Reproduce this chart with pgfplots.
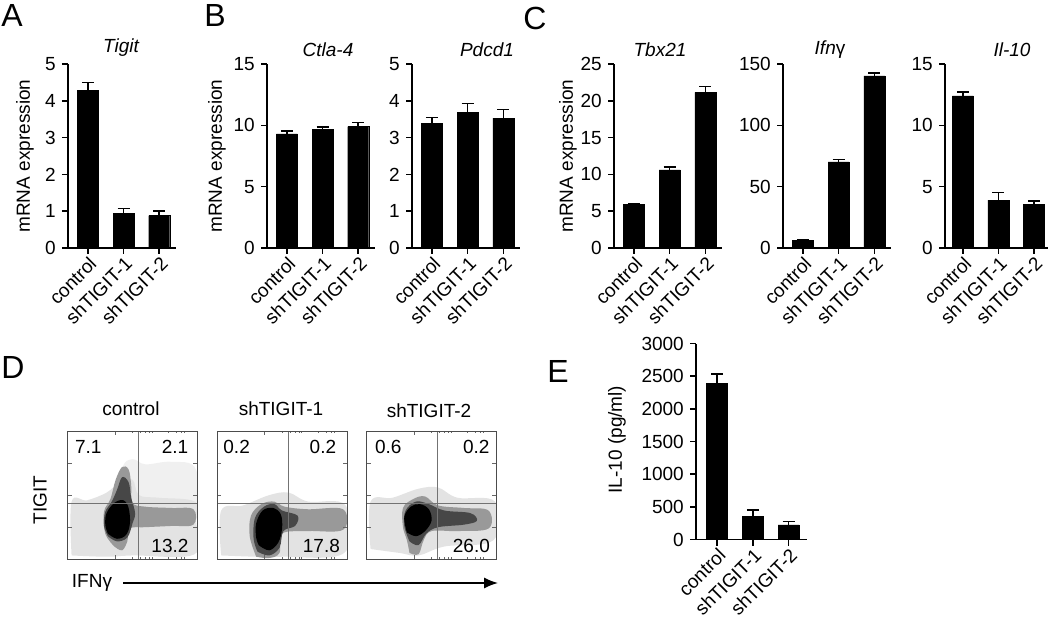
\documentclass[border=0pt]{standalone}
\usepackage{pgfplots}
\pgfplotsset{compat=1.18}
\usepackage{fontspec}
\setmainfont{Liberation Sans}
\usetikzlibrary{arrows.meta}
\newcommand\f{\fontsize{19}{22}\selectfont}
\newcommand\bigf{\fontsize{32}{36}\selectfont}
\pgfplotsset{
  barax/.style={
    scale only axis, width=108pt, height=184pt,
    ymin=0, xmin=-0.56, xmax=2.47,
    axis x line*=bottom, axis y line*=left,
    axis line style={line width=1.5pt},
    xtick={0,1,2}, xticklabels={control,shTIGIT-1,shTIGIT-2},
    tick align=outside, major tick length=6pt,
    every tick/.style={black, line width=1.5pt},
    xticklabel style={rotate=45, anchor=north east, inner sep=1pt},
    yticklabel style={inner sep=2pt, anchor=east, xshift=-4pt},
    /pgf/number format/assume math mode=true,
    /pgf/number format/1000 sep={},
    scaled y ticks=false,
    clip=false, anchor=south west,
  },
  barplot/.style={ybar, bar width=21pt, fill=black, draw=black,
     error bars/.cd, y dir=plus, y explicit,
     error bar style={line width=1.5pt, black},
     error mark options={line width=1.5pt, mark size=6pt, rotate=90, black}},
  flow/.style={
    scale only axis, width=129.6pt, height=128.3pt,
    xmin=0, xmax=100, ymin=0, ymax=100,
    ytick={25,50,75}, yticklabels={},
    xtick={36.5}, xticklabels={},
    minor xtick={50,56,60,63,65,78,84,88,90},
    tick align=inside, major tick length=4pt, minor tick length=2pt,
    every tick/.style={black!60, line width=0.6pt},
    axis line style={black!70, line width=0.8pt},
    axis on top, anchor=south west,
  },
  cloud/.style={draw=none, fill=#1, smooth, tension=0.6},
}
\begin{document}
\begin{tikzpicture}[font=\f]
\path[use as bounding box] (0pt,0pt) rectangle (1050pt,-617pt);
% panel letters
\node[font=\bigf] at (12pt,-15pt) {A};
\node[font=\bigf] at (215pt,-15pt) {B};
\node[font=\bigf] at (535pt,-18pt) {C};
\node[font=\bigf] at (13pt,-367pt) {D};
\node[font=\bigf] at (558pt,-371pt) {E};
% titles
\node[font=\f\itshape] at (121pt,-48pt) {Tigit};
\node[font=\f\itshape] at (328pt,-50pt) {Ctla-4};
\node[font=\f\itshape] at (487pt,-50pt) {Pdcd1};
\node[font=\f\itshape] at (660pt,-50pt) {Tbx21};
\node at (830pt,-50pt) {{\itshape Ifn}γ};
\node[font=\f\itshape] at (1012pt,-50pt) {Il-10};

% A
\begin{axis}[barax, at={(68pt,-248pt)}, ymax=5, ytick={0,1,2,3,4,5},
  ylabel={mRNA expression}, ylabel style={at={(axis description cs:-0.398,0.5)}, anchor=center}]
\addplot[barplot] coordinates {(0,4.28) +- (0,0.22) (1,0.94) +- (0,0.13) (2,0.88) +- (0,0.12)};
\end{axis}
% B Ctla-4
\begin{axis}[barax, at={(267pt,-248pt)}, ymax=15, ytick={0,5,10,15},
  ylabel={mRNA expression}, ylabel style={at={(axis description cs:-0.463,0.5)}, anchor=center}]
\addplot[barplot] coordinates {(0,9.3) +- (0,0.25) (1,9.65) +- (0,0.22) (2,9.9) +- (0,0.35)};
\end{axis}
% B Pdcd1
\begin{axis}[barax, at={(412pt,-248pt)}, ymax=5, ytick={0,1,2,3,4,5}]
\addplot[barplot] coordinates {(0,3.39) +- (0,0.16) (1,3.69) +- (0,0.24) (2,3.53) +- (0,0.23)};
\end{axis}
% C Tbx21
\begin{axis}[barax, at={(614pt,-248pt)}, ymax=25, ytick={0,5,10,15,20,25},
  ylabel={mRNA expression}, ylabel style={at={(axis description cs:-0.426,0.5)}, anchor=center}]
\addplot[barplot] coordinates {(0,5.92) +- (0,0.12) (1,10.6) +- (0,0.4) (2,21.15) +- (0,0.8)};
\end{axis}
% C Ifng
\begin{axis}[barax, at={(783pt,-248pt)}, ymax=150, ytick={0,50,100,150}]
\addplot[barplot] coordinates {(0,6.1) +- (0,0.8) (1,70.2) +- (0,1.9) (2,140.4) +- (0,2.4)};
\end{axis}
% C Il-10
\begin{axis}[barax, at={(945pt,-248pt)}, width=103pt, xmin=-0.5, xmax=2.4, ymax=15, ytick={0,5,10,15}]
\addplot[barplot] coordinates {(0,12.41) +- (0,0.31) (1,3.91) +- (0,0.6) (2,3.55) +- (0,0.3)};
\end{axis}
% E
\begin{axis}[barax, at={(696pt,-539.5pt)}, width=110.5pt, height=196pt, xmin=-0.59, xmax=2.5,
  ymax=3000, ytick={0,500,1000,1500,2000,2500,3000},
  ylabel={IL-10 (pg/ml)}, ylabel style={at={(axis description cs:-0.715,0.51)}, anchor=center}]
\addplot[barplot] coordinates {(0,2395) +- (0,139) (1,357) +- (0,93) (2,222) +- (0,52)};
\end{axis}

% D flow plots
\node at (131pt,-409pt) {control};
\node at (281pt,-409pt) {shTIGIT-1};
\node at (429pt,-411pt) {shTIGIT-2};
\node[rotate=90] at (40pt,-500pt) {TIGIT};
\node at (92pt,-583pt) {IFNγ};
\draw[line width=1.5pt, -{Latex[length=14pt,width=11pt]}] (123pt,-583pt) -- (498pt,-583pt);

\begin{axis}[flow, at={(67.7pt,-559.3pt)}]
\addplot[cloud=black!6] coordinates {(40,30) (98,30) (99,70) (80,76) (60,74) (50,78) (42,70) (40,30)} -- cycle;
\addplot[cloud=black!11] coordinates {(3,3) (30,2) (50,3) (98,4) (99,30) (98,45) (70,48) (55,50) (50,62) (40,60) (30,52) (15,46) (3,45) (3,3)} -- cycle;
\addplot[cloud=black!40] coordinates {(36,10) (42,7) (46,14) (48,24) (60,25) (80,26) (97,27) (97,39) (80,40) (60,41) (50,44) (49,58) (47,70) (42,72) (37,62) (33,47) (28,37) (29,20) (36,10)} -- cycle;
\addplot[cloud=black!72] coordinates {(31,18) (38,14) (46,17) (50,28) (52,36) (49,48) (47,60) (42,64) (38,54) (34,45) (29,37) (28,26) (31,18)} -- cycle;
\addplot[cloud=black] coordinates {(31,20) (38,16) (45,19) (48,28) (47,40) (43,46) (36,44) (30,36) (29,27) (31,20)} -- cycle;
\addplot[black!55, line width=0.7pt] coordinates {(54.5,0) (54.5,100)};
\addplot[black!55, line width=0.7pt] coordinates {(0,43.6) (100,43.6)};
\node at (axis cs:15.9,87.3) {7.1};
\node at (axis cs:82.8,87.3) {2.1};
\node at (axis cs:78.9,10.6) {13.2};
\end{axis}

\begin{axis}[flow, at={(217.3pt,-559.3pt)}]
\addplot[cloud=black!11] coordinates {(3,3) (30,2) (50,2) (98,5) (99,42) (70,45) (55,52) (40,50) (20,42) (3,38) (3,3)} -- cycle;
\addplot[cloud=black!40] coordinates {(30,2) (40,1) (48,5) (50,20) (70,22) (97,23) (97,39) (70,39) (52,41) (44,45) (34,43) (26,34) (25,18) (30,2)} -- cycle;
\addplot[cloud=black!72] coordinates {(31,6) (40,3) (48,9) (51,22) (60,26) (62,34) (50,38) (44,43) (36,41) (29,32) (28,16) (31,6)} -- cycle;
\addplot[cloud=black] coordinates {(32,11) (40,7) (47,13) (50,24) (49,35) (43,40) (35,38) (30,28) (30,17) (32,11)} -- cycle;
\addplot[black!55, line width=0.7pt] coordinates {(54.6,0) (54.6,100)};
\addplot[black!55, line width=0.7pt] coordinates {(0,43.6) (100,43.6)};
\node at (axis cs:14.9,87.3) {0.2};
\node at (axis cs:81.5,87.3) {0.2};
\node at (axis cs:80.3,10.6) {17.8};
\end{axis}

\begin{axis}[flow, at={(366.7pt,-559.3pt)}]
\addplot[cloud=black!11] coordinates {(3,8) (25,5) (40,3) (60,10) (98,15) (99,45) (70,48) (55,56) (40,55) (20,48) (3,45) (3,8)} -- cycle;
\addplot[cloud=black!40] coordinates {(33,5) (40,4) (44,15) (50,22) (70,22) (94,24) (94,38) (75,40) (55,42) (45,49) (36,47) (28,40) (28,25) (31,15) (33,5)} -- cycle;
\addplot[cloud=black!72] coordinates {(33,14) (40,11) (46,20) (55,25) (75,27) (85,30) (80,36) (60,38) (48,43) (38,45) (30,38) (29,26) (33,14)} -- cycle;
\addplot[cloud=black] coordinates {(31,21) (38,18) (45,22) (50,30) (48,39) (41,43) (34,41) (29,33) (31,21)} -- cycle;
\addplot[black!55, line width=0.7pt] coordinates {(54.6,0) (54.6,100)};
\addplot[black!55, line width=0.7pt] coordinates {(0,43.6) (100,43.6)};
\node at (axis cs:16.7,87.3) {0.6};
\node at (axis cs:84.6,87.3) {0.2};
\node at (axis cs:80.8,10.6) {26.0};
\end{axis}
\end{tikzpicture}
\end{document}
